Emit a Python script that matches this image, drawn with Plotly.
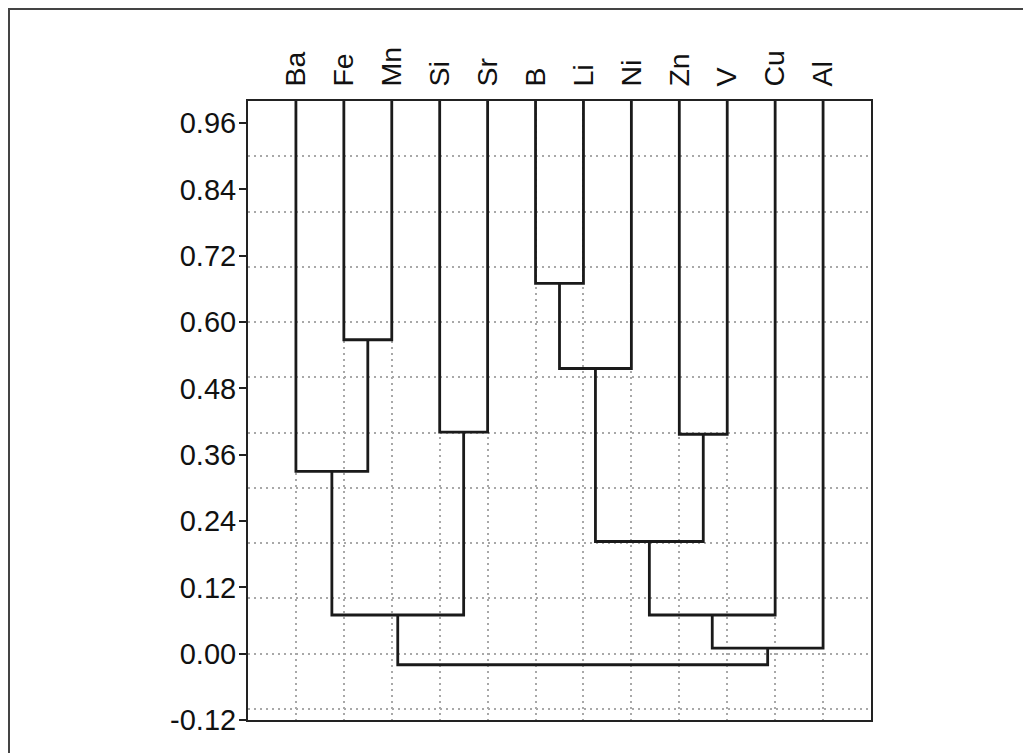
import plotly.graph_objects as go

# leaf order along the x axis
leaves = ["Ba", "Fe", "Mn", "Si", "Sr", "B", "Li", "Ni", "Zn", "V", "Cu", "Al"]

# merges: child a, child b, similarity at which they join (n<k> = k-th merge)
merge_a = ["Fe", "Ba", "Si", "n2", "B", "n5", "Zn", "n6", "n8", "n9", "n4"]
merge_b = ["Mn", "n1", "Sr", "n3", "Li", "Ni", "V", "n7", "Cu", "Al", "n10"]
merge_h = [0.568, 0.330, 0.401, 0.070, 0.670, 0.516, 0.397, 0.203, 0.070, 0.010, -0.020]

y_ticks = [-0.12, 0.00, 0.12, 0.24, 0.36, 0.48, 0.60, 0.72, 0.84, 0.96]
leaf_top = 1.0

pos = {name: i + 1 for i, name in enumerate(leaves)}
top = {name: leaf_top for name in leaves}

xs, ys = [], []
for k, (a, b, h) in enumerate(zip(merge_a, merge_b, merge_h), start=1):
    xa, xb = pos[a], pos[b]
    xs += [xa, xa, xb, xb, None]
    ys += [top[a], h, h, top[b], None]
    node = "n%d" % k
    pos[node] = (xa + xb) / 2
    top[node] = h

font = "Arial, Liberation Sans, sans-serif"

# page has an 8px body margin, so the figure is a little smaller than the window
W, H = 1023, 745
L, R, T, B = 240, 160, 93, 33

fig = go.Figure()
fig.add_trace(go.Scatter(x=xs, y=ys, mode="lines",
                         line=dict(color="#1a1a1a", width=2.8),
                         hoverinfo="skip", showlegend=False))
# invisible trace to bring the label axis to life
fig.add_trace(go.Scatter(x=[None], y=[None], yaxis="y2", showlegend=False))

fig.update_layout(
    width=W, height=H,
    margin=dict(l=L, r=R, t=T, b=B),
    paper_bgcolor="white", plot_bgcolor="white",
    font=dict(family=font, color="#111"),
    xaxis=dict(range=[0, 13], side="top",
               tickmode="array", tickvals=list(range(1, len(leaves) + 1)),
               ticktext=leaves, tickangle=-90, ticks="",
               tickfont=dict(size=28.5, color="#111"), ticklabelstandoff=7,
               showgrid=True, gridcolor="#a8a8a8", gridwidth=1.5, griddash="2px,4px",
               showline=True, linecolor="#222", linewidth=1.5, mirror=True,
               zeroline=False),
    yaxis=dict(range=[-0.12, 1.0], tick0=0, dtick=0.1,
               showticklabels=False, ticks="",
               showgrid=True, gridcolor="#a8a8a8", gridwidth=1.5, griddash="2px,4px",
               showline=True, linecolor="#222", linewidth=1.5, mirror=True,
               zeroline=False),
    yaxis2=dict(range=[-0.12, 1.0], overlaying="y", side="left",
                tickmode="array", tickvals=y_ticks,
                ticktext=["%.2f" % v for v in y_ticks],
                ticks="outside", ticklen=8, tickwidth=1.5, tickcolor="#222",
                ticklabelstandoff=-3,
                tickfont=dict(size=29, color="#111"),
                showgrid=False, zeroline=False, showline=False),
)

# outer frame of the figure (right and bottom sides fall outside the page)
pw, ph = W - L - R, H - T - B
fig.add_shape(type="rect", xref="paper", yref="paper",
              x0=(1 - L) / pw, x1=1.6, y0=-0.3, y1=1 + (T - 1) / ph,
              line=dict(color="#444", width=2))

fig.write_html("out.html")
